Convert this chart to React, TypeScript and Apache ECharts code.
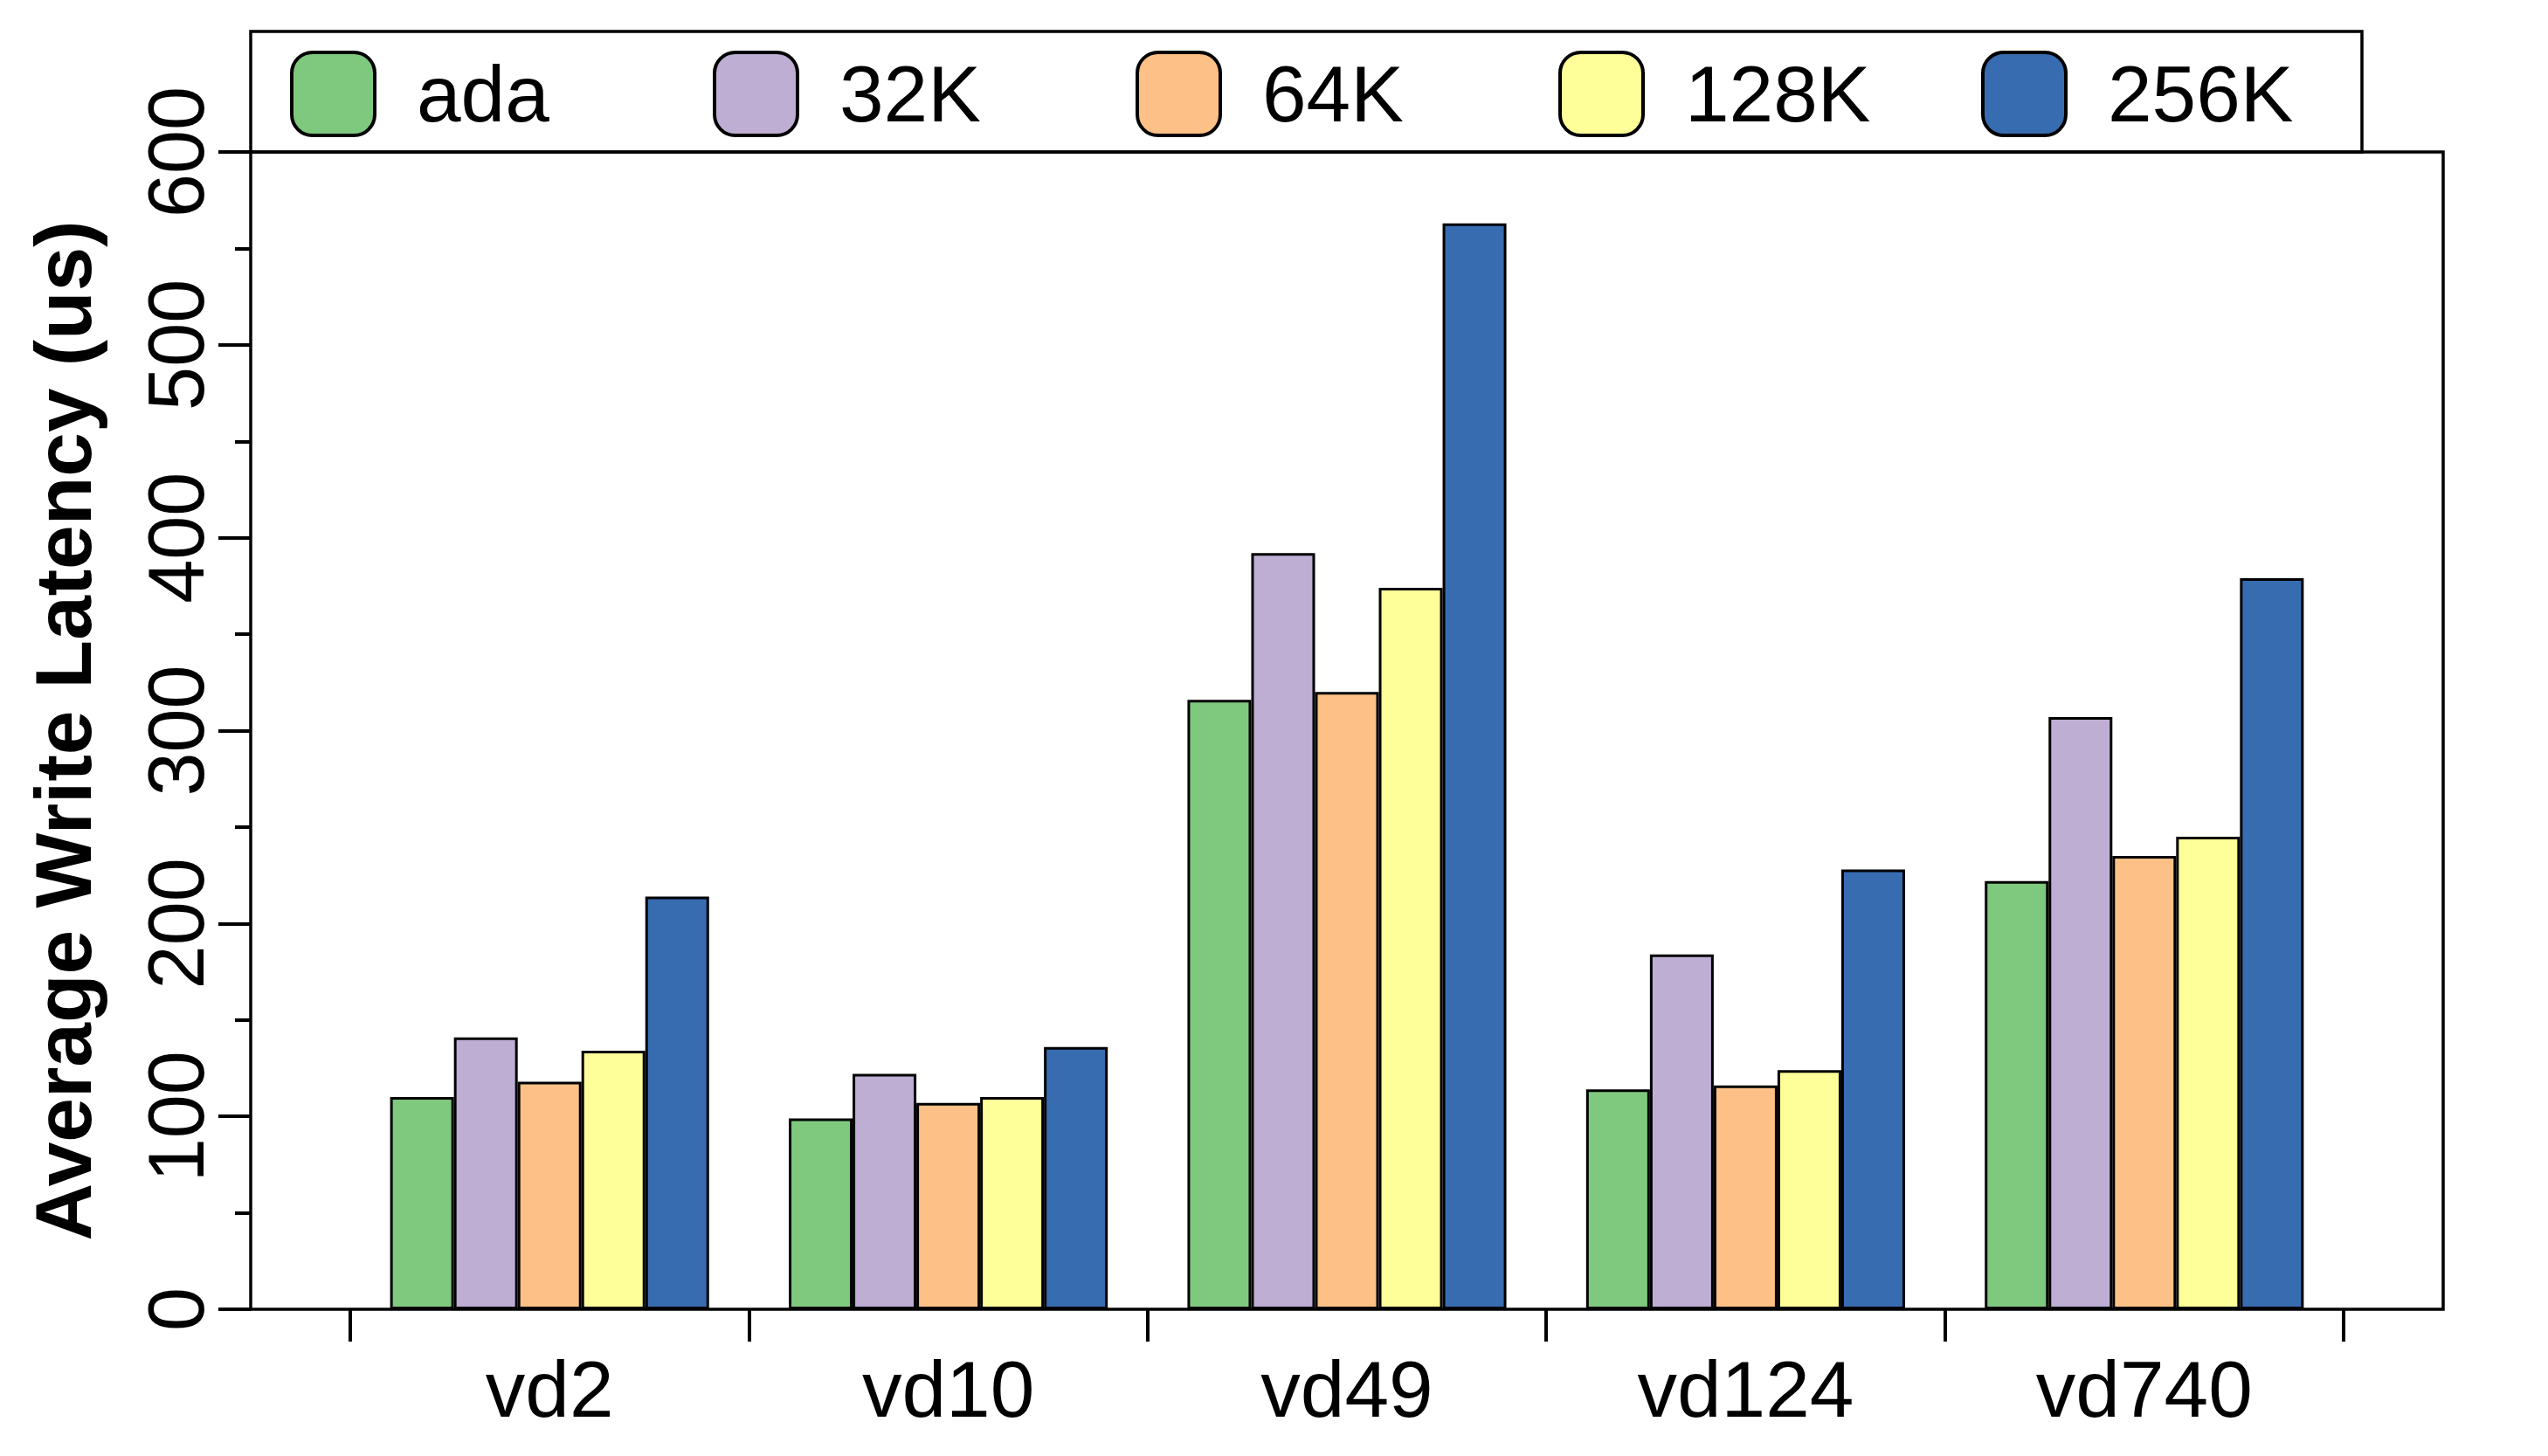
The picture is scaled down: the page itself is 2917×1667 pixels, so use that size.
import React, { useEffect, useRef } from "react";
import * as echarts from "echarts";

const categories = ["vd2", "vd10", "vd49", "vd124", "vd740"];
const seriesNames = ["ada", "32K", "64K", "128K", "256K"];
const adaValues = [110, 99, 316, 114, 222];
const k32Values = [141, 122, 392, 184, 307];
const k64Values = [118, 107, 320, 116, 235];
const k128Values = [134, 110, 374, 124, 245];
const k256Values = [214, 136, 563, 228, 379];
const seriesColors = ["#7fc97f", "#beaed4", "#fdc086", "#ffff99", "#386cb0"];
const yMin = 0;
const yMax = 600;
const yInterval = 100;

const FONT = "'Liberation Sans', Arial, Helvetica, sans-serif";

export default function App() {
  const ref = useRef<HTMLDivElement>(null);

  useEffect(() => {
    if (!ref.current) return;
    const chart = echarts.init(ref.current, undefined, { renderer: "svg" });
    const allValues = [adaValues, k32Values, k64Values, k128Values, k256Values];

    const legends = seriesNames.map((name, i) => ({
      data: [name],
      left: 332 + i * 484,
      top: 58,
      padding: 0,
      itemWidth: 95,
      itemHeight: 95,
      icon: "roundRect",
      selectedMode: false,
      itemStyle: { borderColor: "#000", borderWidth: 4 },
      textStyle: {
        fontFamily: FONT,
        fontSize: 91,
        color: "#000",
        padding: [0, 0, 0, 43],
      },
    }));

    const option: any = {
      animation: false,
      backgroundColor: "#ffffff",
      grid: {
        left: 401,
        right: 234,
        top: 174,
        bottom: 168,
        containLabel: false,
        outerBoundsMode: "none",
      },
      legend: legends,
      xAxis: {
        type: "category",
        data: categories,
        boundaryGap: true,
        axisLine: { show: false },
        axisTick: {
          show: true,
          alignWithLabel: false,
          length: 37,
          lineStyle: { color: "#000", width: 4 },
        },
        axisLabel: {
          fontFamily: FONT,
          fontSize: 91,
          color: "#000",
          margin: 46,
        },
        splitLine: { show: false },
      },
      yAxis: {
        type: "value",
        min: yMin,
        max: yMax,
        interval: yInterval,
        offset: 114,
        name: "Average Write Latency (us)",
        nameLocation: "middle",
        nameRotate: 90,
        nameGap: 169,
        nameMoveOverlap: false,
        nameTextStyle: {
          fontFamily: FONT,
          fontSize: 91,
          fontWeight: "bold",
          color: "#000",
        },
        axisLine: { show: false },
        axisTick: {
          show: true,
          length: 37,
          lineStyle: { color: "#000", width: 4 },
        },
        minorTick: {
          show: true,
          splitNumber: 2,
          length: 18,
          lineStyle: { color: "#000", width: 4 },
        },
        axisLabel: {
          fontFamily: FONT,
          fontSize: 90,
          color: "#000",
          rotate: 90,
          margin: 40,
        },
        splitLine: { show: false },
        minorSplitLine: { show: false },
      },
      series: seriesNames.map((name, i) => ({
        name,
        type: "bar",
        data: allValues[i],
        barGap: "0%",
        barCategoryGap: "20%",
        itemStyle: {
          color: seriesColors[i],
          borderColor: "#000",
          borderWidth: 3,
        },
        emphasis: { disabled: true },
      })),
      graphic: [
        {
          type: "rect",
          z: 100,
          shape: { x: 287, y: 174, width: 2510, height: 1325 },
          style: { fill: "none", stroke: "#000", lineWidth: 3.5 },
          silent: true,
        },
        {
          type: "rect",
          z: 100,
          shape: { x: 287, y: 36, width: 2417, height: 138 },
          style: { fill: "none", stroke: "#000", lineWidth: 3.5 },
          silent: true,
        },
      ],
    };

    chart.setOption(option);
    return () => {
      chart.dispose();
    };
  }, []);

  return (
    <div
      ref={ref}
      style={{ position: "fixed", left: 0, top: 0, width: 2917, height: 1667 }}
    />
  );
}
